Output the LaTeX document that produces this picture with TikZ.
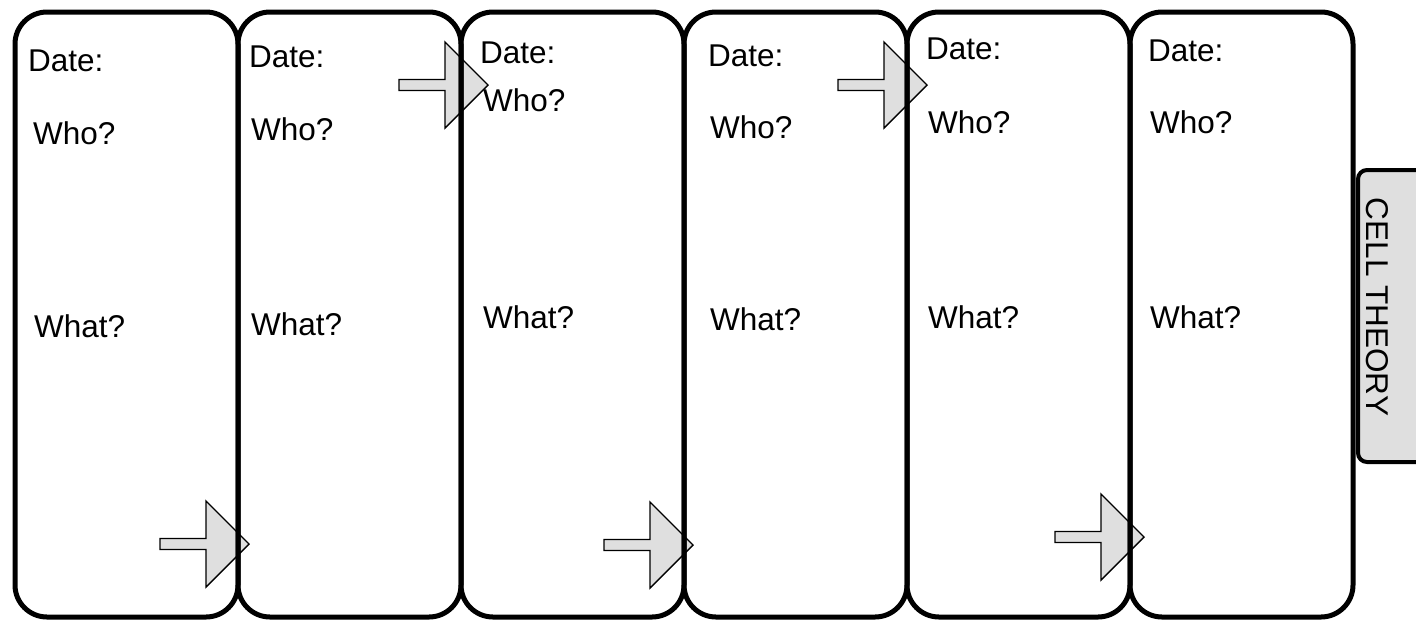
\documentclass[tikz,border=0pt]{standalone}
\usepackage{fontspec}
\setmainfont{Liberation Sans}
\begin{document}
\begin{tikzpicture}[x=1pt,y=-1pt,
  cellbox/.style={draw=black, line width=5pt, rounded corners=32pt, minimum width=223pt, minimum height=605pt, inner sep=0pt, outer sep=0pt},
  lbl/.style={anchor=base west, inner sep=0pt, font=\fontsize{31.5}{36}\selectfont},
  arrowstyle/.style={draw=black, line width=1.4pt, fill=gray!25, line join=miter},
  tabbox/.style={draw=black, line width=4pt, fill=gray!25, rounded corners=9pt, minimum width=80pt, minimum height=292pt, inner sep=0pt},
  blockarr/.pic={\draw[arrowstyle] (0,-5.5) -- (46,-5.5) -- (46,-43) -- (89,0) -- (46,43) -- (46,5.5) -- (0,5.5) -- cycle;}
]
\useasboundingbox (0,0) rectangle (1416,619);
\clip (0,0) rectangle (1416,619);
% tab
\node[tabbox] (tab) at (1398,316) {};
\node[rotate=-90, inner sep=0pt, font=\fontsize{31.5}{36}\selectfont] (tabtxt) at (1377.5,307) {CELL THEORY};
% arrows
\pic at (160,544) {blockarr};
\pic at (399,85) {blockarr};
\pic at (604,545) {blockarr};
\pic at (838,85) {blockarr};
\pic at (1055,537) {blockarr};
% boxes
\foreach \i in {1,...,6} {
  \node[cellbox] (b\i) at ({15+223*(\i-1)+111.5},314.5) {};
}
% labels
\node[lbl] (d1) at (28,71) {Date:};
\node[lbl] (w1) at (33,144) {Who?};
\node[lbl] (h1) at (34,337) {What?};
\node[lbl] (d2) at (249,67) {Date:};
\node[lbl] (w2) at (251,140) {Who?};
\node[lbl] (h2) at (251,335) {What?};
\node[lbl] (d3) at (480,63) {Date:};
\node[lbl] (w3) at (483,111) {Who?};
\node[lbl] (h3) at (483,328) {What?};
\node[lbl] (d4) at (708,66) {Date:};
\node[lbl] (w4) at (710,138) {Who?};
\node[lbl] (h4) at (710,330) {What?};
\node[lbl] (d5) at (926,59) {Date:};
\node[lbl] (w5) at (928,133) {Who?};
\node[lbl] (h5) at (928,328) {What?};
\node[lbl] (d6) at (1148,61) {Date:};
\node[lbl] (w6) at (1150,133) {Who?};
\node[lbl] (h6) at (1150,328) {What?};
\end{tikzpicture}
\end{document}
